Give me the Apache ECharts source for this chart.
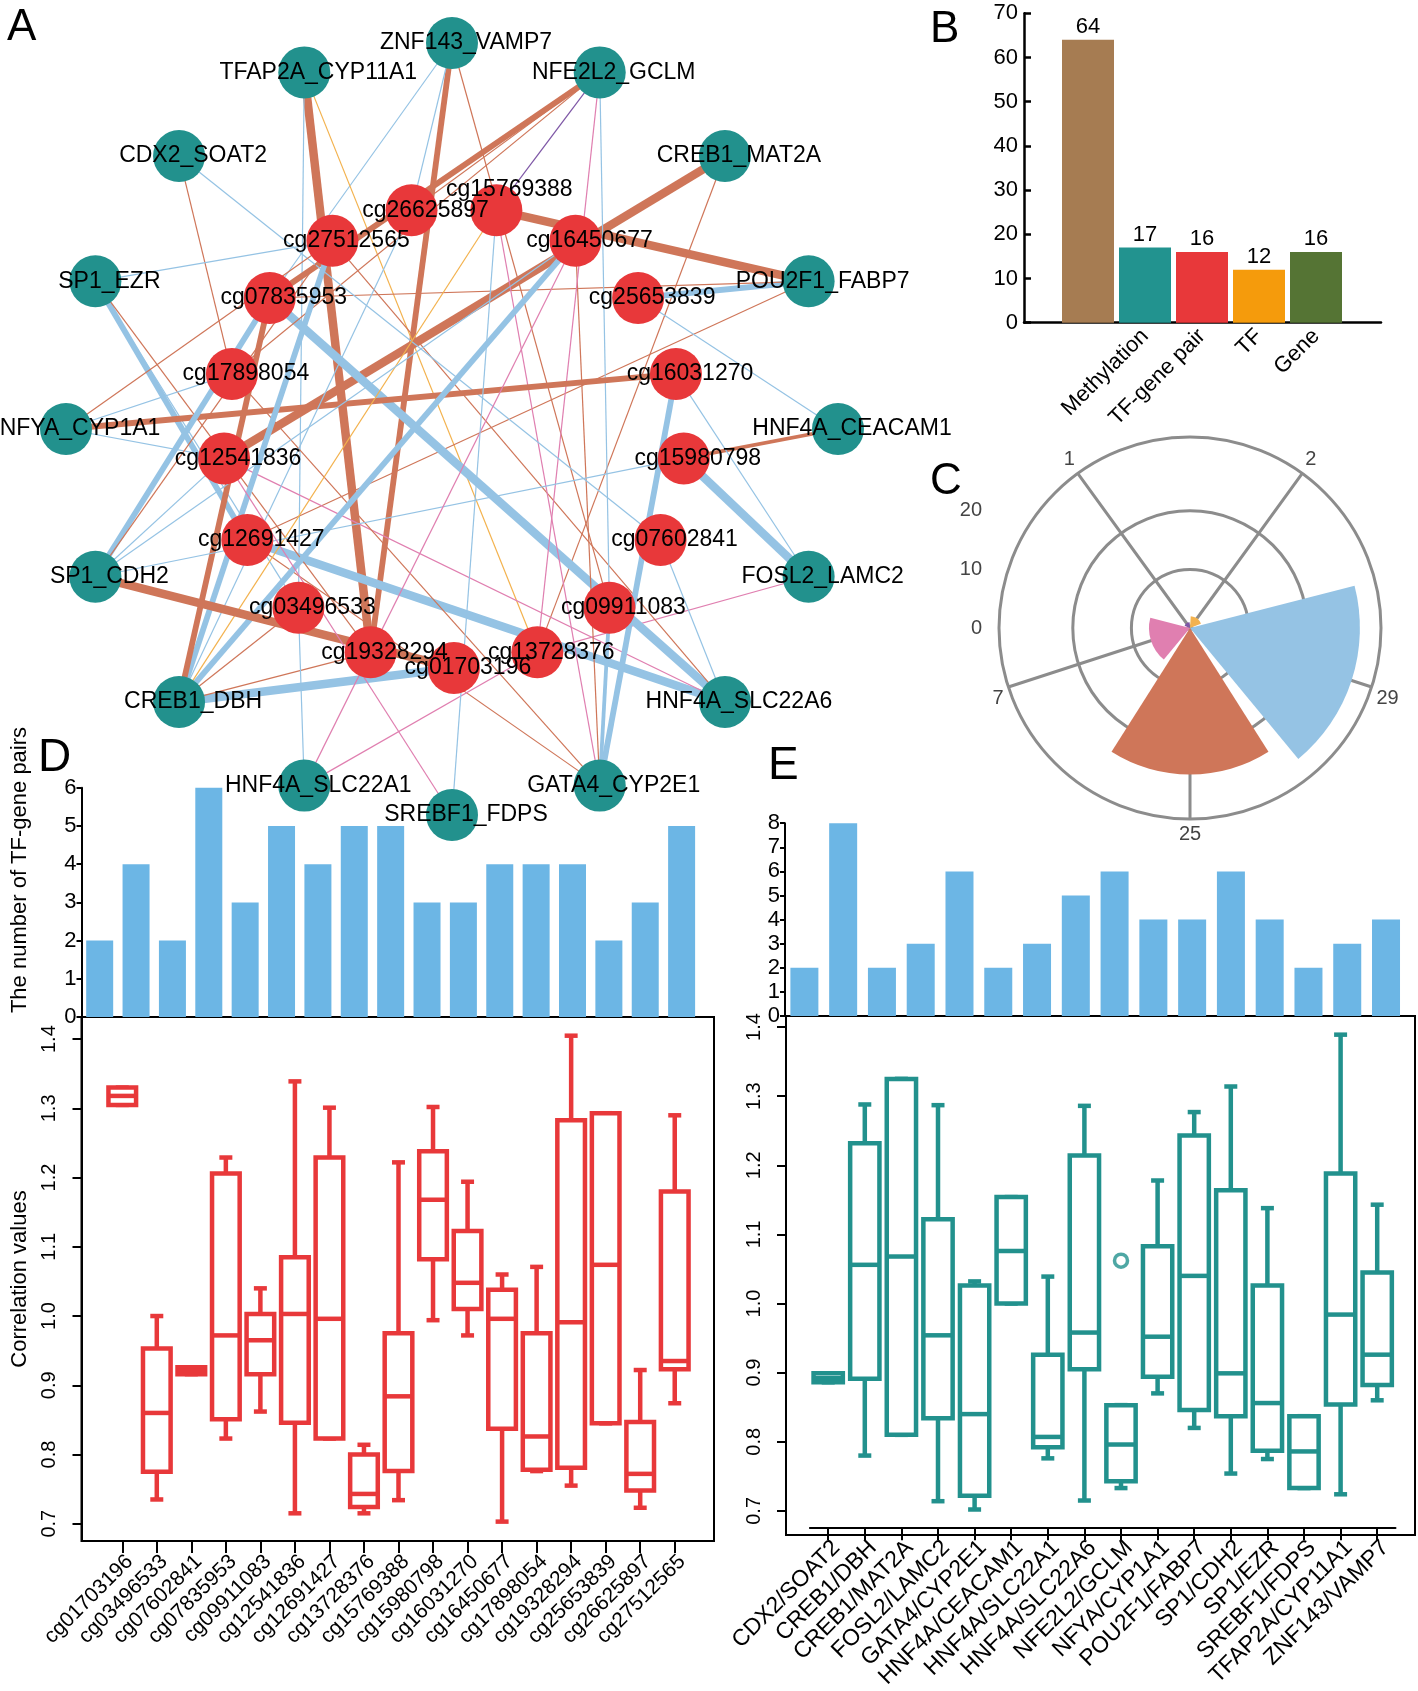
<!DOCTYPE html>
<html><head><meta charset="utf-8">
<script src="https://cdn.jsdelivr.net/npm/echarts@6/dist/echarts.min.js"></script>
<style>html,body{margin:0;padding:0;background:#fff}#c{width:1418px;height:1691px}</style>
</head><body><div id="c"></div>
<script>
// ---------------- DATA ----------------
// Panel A: network (TF-gene pairs on outer ring, CpGs on inner ring, clockwise)
const outerRing = ['ZNF143_VAMP7','NFE2L2_GCLM','CREB1_MAT2A','POU2F1_FABP7','HNF4A_CEACAM1','FOSL2_LAMC2','HNF4A_SLC22A6','GATA4_CYP2E1','SREBF1_FDPS','HNF4A_SLC22A1','CREB1_DBH','SP1_CDH2','NFYA_CYP1A1','SP1_EZR','CDX2_SOAT2','TFAP2A_CYP11A1'];
const innerRing = ['cg01703196','cg19328294','cg03496533','cg12691427','cg12541836','cg17898054','cg07835953','cg27512565','cg26625897','cg15769388','cg16450677','cg25653839','cg16031270','cg15980798','cg07602841','cg09911083','cg13728376'];
// [TF-gene pair, CpG, edge type, strength]
const edges = [
 ['ZNF143_VAMP7','cg19328294','salmon',3],
 ['ZNF143_VAMP7','cg09911083','salmon',1],
 ['ZNF143_VAMP7','cg07835953','blue',1],
 ['ZNF143_VAMP7','cg26625897','blue',1],
 ['TFAP2A_CYP11A1','cg19328294','salmon',4],
 ['TFAP2A_CYP11A1','cg13728376','orange',1],
 ['TFAP2A_CYP11A1','cg03496533','blue',1],
 ['CREB1_MAT2A','cg12541836','salmon',4],
 ['CREB1_MAT2A','cg13728376','salmon',1],
 ['POU2F1_FABP7','cg15769388','salmon',4],
 ['POU2F1_FABP7','cg25653839','blue',3],
 ['POU2F1_FABP7','cg07835953','salmon',1],
 ['POU2F1_FABP7','cg12691427','salmon',1],
 ['HNF4A_CEACAM1','cg15980798','salmon',2],
 ['HNF4A_CEACAM1','cg25653839','blue',1],
 ['FOSL2_LAMC2','cg15980798','blue',4],
 ['FOSL2_LAMC2','cg16031270','blue',1],
 ['FOSL2_LAMC2','cg13728376','pink',1],
 ['HNF4A_SLC22A6','cg07835953','blue',4],
 ['HNF4A_SLC22A6','cg12691427','blue',4],
 ['HNF4A_SLC22A6','cg12541836','pink',1],
 ['HNF4A_SLC22A6','cg27512565','salmon',1],
 ['HNF4A_SLC22A6','cg07602841','blue',1],
 ['GATA4_CYP2E1','cg16031270','blue',3],
 ['GATA4_CYP2E1','cg09911083','blue',2],
 ['GATA4_CYP2E1','cg17898054','salmon',1],
 ['GATA4_CYP2E1','cg12691427','salmon',1],
 ['GATA4_CYP2E1','cg15769388','pink',1],
 ['GATA4_CYP2E1','cg16450677','salmon',1],
 ['NFE2L2_GCLM','cg09911083','blue',1],
 ['NFE2L2_GCLM','cg07835953','salmon',3],
 ['NFE2L2_GCLM','cg15769388','purple',1],
 ['NFE2L2_GCLM','cg17898054','salmon',1],
 ['NFE2L2_GCLM','cg13728376','pink',1],
 ['NFE2L2_GCLM','cg26625897','salmon',1],
 ['CDX2_SOAT2','cg07602841','blue',1],
 ['CDX2_SOAT2','cg17898054','salmon',1],
 ['SP1_EZR','cg12691427','blue',3],
 ['SP1_EZR','cg27512565','blue',1],
 ['SP1_EZR','cg03496533','blue',1],
 ['SP1_EZR','cg19328294','salmon',1],
 ['NFYA_CYP1A1','cg16031270','salmon',3],
 ['NFYA_CYP1A1','cg17898054','blue',1],
 ['NFYA_CYP1A1','cg27512565','salmon',1],
 ['NFYA_CYP1A1','cg12541836','blue',1],
 ['CREB1_DBH','cg01703196','blue',4],
 ['CREB1_DBH','cg16450677','blue',3],
 ['CREB1_DBH','cg27512565','blue',3],
 ['CREB1_DBH','cg07835953','salmon',3],
 ['CREB1_DBH','cg19328294','salmon',1],
 ['CREB1_DBH','cg03496533','salmon',1],
 ['CREB1_DBH','cg15769388','orange',1],
 ['CREB1_DBH','cg26625897','blue',1],
 ['SP1_CDH2','cg01703196','salmon',4],
 ['SP1_CDH2','cg07835953','blue',3],
 ['SP1_CDH2','cg12541836','blue',1],
 ['SP1_CDH2','cg16450677','blue',1],
 ['SP1_CDH2','cg15980798','blue',1],
 ['SP1_CDH2','cg27512565','salmon',1],
 ['HNF4A_SLC22A1','cg16450677','pink',1],
 ['HNF4A_SLC22A1','cg03496533','blue',1],
 ['HNF4A_SLC22A1','cg13728376','pink',1],
 ['SREBF1_FDPS','cg12541836','pink',1],
 ['SREBF1_FDPS','cg15769388','blue',1]
];

// Panel B
const bCategories = ['', 'Methylation', 'TF-gene pair', 'TF', 'Gene'];
const bValues = [64, 17, 16, 12, 16];

// Panel C (edge types)
const cEdgeTypes = ['purple', 'orange', 'blue', 'salmon', 'pink'];
const cValues = [1, 2, 29, 25, 7];

// Panel D
const dCpGs = ['cg01703196','cg03496533','cg07602841','cg07835953','cg09911083','cg12541836','cg12691427','cg13728376','cg15769388','cg15980798','cg16031270','cg16450677','cg17898054','cg19328294','cg25653839','cg26625897','cg27512565'];
const dPairCounts = [2,4,2,6,3,5,4,5,5,3,3,4,4,4,2,3,5];
// [min, Q1, median, Q3, max]
const dBoxStats = [
 [1.305,1.305,1.318,1.330,1.330],
 [0.735,0.775,0.860,0.953,1.000],
 [0.916,0.916,0.921,0.926,0.926],
 [0.823,0.851,0.972,1.206,1.229],
 [0.862,0.916,0.965,1.003,1.040],
 [0.715,0.846,1.003,1.085,1.339],
 [0.823,0.823,0.996,1.229,1.301],
 [0.715,0.724,0.743,0.800,0.814],
 [0.734,0.776,0.884,0.975,1.222],
 [0.994,1.082,1.168,1.238,1.302],
 [0.972,1.010,1.048,1.123,1.194],
 [0.703,0.837,0.996,1.038,1.060],
 [0.776,0.778,0.826,0.975,1.071],
 [0.755,0.781,0.991,1.283,1.405],
 [0.845,0.845,1.074,1.293,1.293],
 [0.723,0.748,0.772,0.847,0.922],
 [0.874,0.923,0.935,1.180,1.290]
];

// Panel E
const ePairs = ['CDX2/SOAT2','CREB1/DBH','CREB1/MAT2A','FOSL2/LAMC2','GATA4/CYP2E1','HNF4A/CEACAM1','HNF4A/SLC22A1','HNF4A/SLC22A6','NFE2L2/GCLM','NFYA/CYP1A1','POU2F1/FABP7','SP1/CDH2','SP1/EZR','SREBF1/FDPS','TFAP2A/CYP11A1','ZNF143/VAMP7'];
const ePairCounts = [2,8,2,3,6,2,3,5,6,4,4,6,4,2,3,4];
const eBoxStats = [
 [0.886,0.886,0.892,0.899,0.899],
 [0.780,0.891,1.056,1.232,1.288],
 [0.810,0.810,1.068,1.325,1.325],
 [0.714,0.834,0.954,1.122,1.287],
 [0.702,0.722,0.840,1.026,1.032],
 [1.000,1.000,1.076,1.154,1.154],
 [0.776,0.792,0.807,0.926,1.039],
 [0.715,0.905,0.958,1.214,1.286],
 [0.733,0.743,0.796,0.853,0.853],
 [0.870,0.894,0.952,1.083,1.178],
 [0.820,0.846,1.040,1.243,1.277],
 [0.754,0.837,0.899,1.164,1.314],
 [0.775,0.787,0.856,1.026,1.138],
 [0.733,0.733,0.786,0.837,0.837],
 [0.724,0.854,0.984,1.188,1.389],
 [0.860,0.882,0.926,1.045,1.143]
];
const eOutliers = [['NFE2L2/GCLM', 1.062]];

// ---------------- STYLE ----------------
const FONT = '"Liberation Sans", Arial, Helvetica, sans-serif';
const EDGE_COLORS = {blue:'#95C3E4', salmon:'#CF7659', pink:'#E07FB0', orange:'#F3B24E', purple:'#7E57A6'};
const STRENGTH_WIDTH = [0, 1.2, 3.8, 5.8, 8.5];
const TEAL = '#22918D', RED = '#E8383A', BARBLUE = '#6CB6E5';
const B_COLORS = ['#A67C52', '#22938F', '#E8383A', '#F59B0C', '#557434'];
const GRAY = '#8C8C8C';
// ring layout (in units of the outer ring radius)
const INNER_R = 0.598, INNER_DX = 0.005, INNER_DY = -0.021;

// ---------------- BUILD ----------------
const nodes = [];
outerRing.forEach((n, k) => {
  const a = (-90 + k * 360 / outerRing.length) * Math.PI / 180;
  nodes.push({name: n, value: [Math.cos(a), -Math.sin(a)], itemStyle: {color: TEAL}});
});
innerRing.forEach((n, k) => {
  const a = (90 + k * 360 / innerRing.length) * Math.PI / 180;
  const item = {name: n, value: [INNER_DX + INNER_R * Math.cos(a), INNER_DY - INNER_R * Math.sin(a)], itemStyle: {color: RED}};
  if (n === 'cg15769388') item.label = {offset: [13, -21]};
  nodes.push(item);
});
const links = edges.map(e => ({source: e[0], target: e[1],
  lineStyle: {color: EDGE_COLORS[e[2]], width: STRENGTH_WIDTH[e[3]], opacity: 1}}));

function boxRenderer(color) {
  return function (params, api) {
    const x = api.value(0);
    const lo = api.coord([x, api.value(1)]);
    const q1 = api.coord([x, api.value(2)]);
    const md = api.coord([x, api.value(3)]);
    const q3 = api.coord([x, api.value(4)]);
    const hi = api.coord([x, api.value(5)]);
    const bw = api.size([1, 0])[0] * 0.8;
    const cap = 13;
    const cx = lo[0];
    const st = {stroke: color, lineWidth: 4.5, fill: null};
    return {type: 'group', children: [
      {type: 'line', shape: {x1: cx, y1: q3[1], x2: cx, y2: hi[1]}, style: st},
      {type: 'line', shape: {x1: cx, y1: q1[1], x2: cx, y2: lo[1]}, style: st},
      {type: 'line', shape: {x1: cx - cap/2, y1: hi[1], x2: cx + cap/2, y2: hi[1]}, style: st},
      {type: 'line', shape: {x1: cx - cap/2, y1: lo[1], x2: cx + cap/2, y2: lo[1]}, style: st},
      {type: 'rect', shape: {x: cx - bw/2, y: q3[1], width: bw, height: Math.max(q1[1] - q3[1], 0.5)},
        style: {stroke: color, lineWidth: 4.5, fill: '#fff'}},
      {type: 'line', shape: {x1: cx - bw/2, y1: md[1], x2: cx + bw/2, y2: md[1]}, style: st}
    ]};
  };
}

const black = {color: '#000', width: 2};
const hiddenX = (g) => ({gridIndex: g, type: 'value', show: false, min: 0, max: 1});
const hiddenY = (g) => ({gridIndex: g, type: 'value', show: false, min: 0, max: 1});

const option = {
  animation: false,
  backgroundColor: '#fff',
  textStyle: {fontFamily: FONT},
  grid: [
    {left: 66, top: 43, width: 772, height: 772},                 // 0 network
    {left: 1024, top: 13.3, width: 357, height: 309.4},           // 1 B outer
    {left: 1059.5, top: 13.3, width: 285, height: 309.4},         // 2 B inner
    {left: 990, top: 510.8, width: 1, height: 117.2},             // 3 C radial labels
    {left: 81.5, top: 787.8, width: 618.3, height: 229.2},        // 4 D bars
    {left: 81.5, top: 1017, width: 632.5, height: 524, show: true, borderColor: '#000', borderWidth: 2, backgroundColor: 'transparent'}, // 5 D frame
    {left: 105, top: 1017, width: 587, height: 524},              // 6 D boxes
    {left: 785, top: 823.2, width: 620.4, height: 192.8},         // 7 E bars
    {left: 786, top: 1016, width: 629, height: 519, show: true, borderColor: '#000', borderWidth: 2, backgroundColor: 'transparent'},  // 8 E frame
    {left: 809.9, top: 1016, width: 585.6, height: 519}           // 9 E boxes
  ],
  xAxis: [
    {gridIndex: 0, type: 'value', min: -1, max: 1, show: false},
    {gridIndex: 1, type: 'value', min: 0, max: 1, axisLine: {show: true, lineStyle: {color: '#000', width: 2.5}}, axisTick: {show: false}, axisLabel: {show: false}, splitLine: {show: false}},
    {gridIndex: 2, type: 'category', data: bCategories, axisLine: {show: false}, axisTick: {show: false},
      axisLabel: {interval: 0, rotate: 45, fontSize: 22, color: '#000', margin: 10}},
    hiddenX(3),
    {gridIndex: 4, type: 'category', data: dCpGs, show: false},
    hiddenX(5),
    {gridIndex: 6, type: 'category', data: dCpGs, axisLine: {show: true, lineStyle: black},
      axisTick: {show: true, alignWithLabel: true, interval: 0, length: 12, lineStyle: black},
      axisLabel: {interval: 0, rotate: 45, fontSize: 21, color: '#000', margin: 10, verticalAlign: 'top'}},
    {gridIndex: 7, type: 'category', data: ePairs, show: false},
    hiddenX(8),
    {gridIndex: 9, type: 'category', data: ePairs, axisLine: {show: true, lineStyle: black},
      axisTick: {show: true, alignWithLabel: true, interval: 0, length: 12, lineStyle: black},
      axisLabel: {interval: 0, rotate: 45, fontSize: 23, color: '#000', margin: 8, verticalAlign: 'top'}}
  ],
  yAxis: [
    {gridIndex: 0, type: 'value', min: -1, max: 1, show: false},
    {gridIndex: 1, type: 'value', min: 0, max: 70, interval: 10,
      axisLine: {show: true, lineStyle: {color: '#000', width: 2.5}},
      axisTick: {show: true, inside: true, length: 7, lineStyle: {color: '#000', width: 2.5}},
      axisLabel: {fontSize: 22, color: '#000', margin: 6}, splitLine: {show: false}},
    {gridIndex: 2, type: 'value', min: 0, max: 70, show: false},
    {gridIndex: 3, type: 'value', min: 0, max: 20, interval: 10, axisLine: {show: false}, axisTick: {show: false},
      axisLabel: {fontSize: 20, color: '#444', margin: 8}, splitLine: {show: false}},
    {gridIndex: 4, type: 'value', min: 0, max: 6, interval: 1,
      axisLine: {show: true, lineStyle: black}, axisTick: {show: true, length: 5, lineStyle: black},
      axisLabel: {fontSize: 22, color: '#000', margin: 5}, splitLine: {show: false}},
    hiddenY(5),
    {gridIndex: 6, type: 'value', min: 0.675, max: 1.432, splitNumber: 7, offset: 23.5,
      axisLine: {show: true, lineStyle: black}, axisTick: {show: true, length: 9, lineStyle: black},
      axisLabel: {rotate: 90, fontSize: 20, color: '#000', margin: 22, showMinLabel: false, showMaxLabel: false,
        formatter: v => v.toFixed(1)}, splitLine: {show: false}},
    {gridIndex: 7, type: 'value', min: 0, max: 8, interval: 1,
      axisLine: {show: true, lineStyle: black}, axisTick: {show: true, length: 5, lineStyle: black},
      axisLabel: {fontSize: 22, color: '#000', margin: 5}, splitLine: {show: false}},
    hiddenY(8),
    {gridIndex: 9, type: 'value', min: 0.675, max: 1.416, splitNumber: 7, offset: 23.9,
      axisLine: {show: true, lineStyle: black}, axisTick: {show: true, length: 9, lineStyle: black},
      axisLabel: {rotate: 90, fontSize: 20, color: '#000', margin: 22, showMinLabel: false, showMaxLabel: false,
        formatter: v => v.toFixed(1)}, splitLine: {show: false}}
  ],
  polar: [
    {center: [1190, 628], radius: 191},
    {center: [1190, 628], radius: 117.2},
    {center: [1190, 628], radius: 191}
  ],
  angleAxis: [
    {polarIndex: 0, type: 'category', data: cValues.map(String), boundaryGap: false, startAngle: 126, clockwise: true,
      axisLine: {show: false}, axisTick: {show: false},
      splitLine: {show: true, lineStyle: {color: GRAY, width: 3}},
      axisLabel: {fontSize: 20, color: '#444', margin: 5}},
    {polarIndex: 1, type: 'value', min: 0, max: 360, startAngle: 90, show: false},
    {polarIndex: 2, type: 'value', min: 0, max: 360, startAngle: 90,
      axisLine: {show: true, lineStyle: {color: GRAY, width: 3}}, axisTick: {show: false},
      axisLabel: {show: false}, splitLine: {show: false}}
  ],
  radiusAxis: [
    {polarIndex: 0, type: 'value', min: 0, max: 32.6, show: false},
    {polarIndex: 1, type: 'value', min: 0, max: 20, interval: 10, axisLine: {show: false}, axisTick: {show: false},
      axisLabel: {show: false}, splitLine: {show: true, lineStyle: {color: GRAY, width: 3}}},
    {polarIndex: 2, type: 'value', min: 0, max: 1, show: false}
  ],
  graphic: [
    {type: 'text', left: 7, top: 6, style: {text: 'A', font: '44px ' + FONT, fill: '#000'}},
    {type: 'text', left: 930, top: 8, style: {text: 'B', font: '44px ' + FONT, fill: '#000'}},
    {type: 'text', left: 930, top: 460, style: {text: 'C', font: '44px ' + FONT, fill: '#000'}},
    {type: 'text', left: 38, top: 735, style: {text: 'D', font: '46px ' + FONT, fill: '#000'}},
    {type: 'text', left: 768, top: 743, style: {text: 'E', font: '46px ' + FONT, fill: '#000'}},
    {type: 'text', x: 20, y: 870, rotation: Math.PI / 2,
      style: {text: 'The number of TF-gene pairs', font: '22px ' + FONT, fill: '#000', textAlign: 'center', textVerticalAlign: 'middle'}},
    {type: 'text', x: 20, y: 1279, rotation: Math.PI / 2,
      style: {text: 'Correlation values', font: '22px ' + FONT, fill: '#000', textAlign: 'center', textVerticalAlign: 'middle'}}
  ],
  series: [
    {type: 'graph', coordinateSystem: 'cartesian2d', xAxisIndex: 0, yAxisIndex: 0, layout: 'none', z: 10,
      symbol: 'circle', symbolSize: 52, silent: true, roam: false,
      data: nodes, links: links,
      label: {show: true, position: 'inside', offset: [14, 0], fontSize: 23, color: '#000', fontFamily: FONT, textBorderWidth: 0},
      lineStyle: {curveness: 0},
      emphasis: {disabled: true}},
    {type: 'bar', xAxisIndex: 2, yAxisIndex: 2, barWidth: 52,
      data: bValues.map((v, i) => ({value: v, itemStyle: {color: B_COLORS[i]}})),
      label: {show: true, position: 'top', distance: 2, fontSize: 22, color: '#000'}},
    {type: 'bar', coordinateSystem: 'polar', polarIndex: 0, barWidth: '90%', z: 3,
      data: cValues.map((v, i) => ({value: v, itemStyle: {color: EDGE_COLORS[cEdgeTypes[i]]}}))},
    {type: 'bar', xAxisIndex: 4, yAxisIndex: 4, barWidth: 27, data: dPairCounts, itemStyle: {color: BARBLUE}, z: 2},
    {type: 'custom', xAxisIndex: 6, yAxisIndex: 6, renderItem: boxRenderer(RED),
      encode: {x: 0, y: [1, 2, 3, 4, 5]},
      data: dBoxStats.map((s, i) => [i].concat(s))},
    {type: 'bar', xAxisIndex: 7, yAxisIndex: 7, barWidth: 28, data: ePairCounts, itemStyle: {color: BARBLUE}, z: 2},
    {type: 'custom', xAxisIndex: 9, yAxisIndex: 9, renderItem: boxRenderer(TEAL),
      encode: {x: 0, y: [1, 2, 3, 4, 5]},
      data: eBoxStats.map((s, i) => [i].concat(s))},
    {type: 'scatter', xAxisIndex: 9, yAxisIndex: 9, symbol: 'circle', symbolSize: 13,
      itemStyle: {color: '#fff', borderColor: TEAL, borderWidth: 3.5}, data: eOutliers}
  ]
};

const chart = echarts.init(document.getElementById('c'), null, {renderer: 'canvas', width: 1418, height: 1691});
chart.setOption(option);
</script>
</body></html>
